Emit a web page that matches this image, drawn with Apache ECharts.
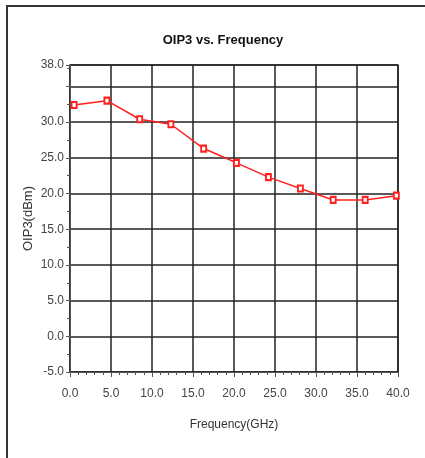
<!DOCTYPE html>
<html>
<head>
<meta charset="utf-8">
<script src="https://cdn.jsdelivr.net/npm/echarts@6/dist/echarts.min.js"></script>
<style>
  html, body { margin: 0; padding: 0; background: #fff; }
  #chart { width: 425px; height: 458px; }
</style>
</head>
<body>
<div id="chart"></div>
<script>
// frequency (GHz) and OIP3 (dBm)
const freq = [0.5, 4.5, 8.5, 12.3, 16.3, 20.3, 24.2, 28.1, 32.1, 36.0, 39.8]
const oip3 = [32.4, 33.0, 30.4, 29.7, 26.3, 24.3, 22.3, 20.7, 19.1, 19.1, 19.7]

const chart = echarts.init(document.getElementById('chart'))
const font = 'Liberation Sans, Arial, sans-serif'

const option = {
  backgroundColor: '#fff',
  animation: false,
  title: {
    text: 'OIP3 vs. Frequency',
    left: 218,
    top: 29,
    textAlign: 'center',
    textStyle: { fontSize: 13, fontWeight: 'bold', color: '#111', fontFamily: font }
  },
  graphic: [{
    // outer frame, only top and left edges visible
    type: 'rect',
    shape: { x: 7, y: 6, width: 440, height: 470 },
    style: { fill: 'none', stroke: '#333', lineWidth: 2 }
  }],
  grid: { left: 70, top: 65, right: 27, bottom: 86, show: true, borderColor: '#333', borderWidth: 1.5 },
  xAxis: {
    type: 'value',
    min: 0,
    max: 40,
    interval: 5,
    name: 'Frequency(GHz)',
    nameLocation: 'middle',
    nameGap: 47,
    nameTextStyle: { fontSize: 12, color: '#333', fontFamily: font },
    axisLine: { onZero: false, lineStyle: { color: '#555', width: 1 } },
    axisTick: { length: 5, lineStyle: { color: '#555' } },
    minorTick: { show: true, splitNumber: 5, length: 3, lineStyle: { color: '#555' } },
    axisLabel: {
      margin: 16,
      fontSize: 12,
      color: '#444',
      fontFamily: font,
      formatter: v => v.toFixed(1)
    },
    splitLine: { lineStyle: { color: '#222', width: 1.5 } }
  },
  yAxis: {
    type: 'value',
    min: -5,
    max: 38,
    interval: 5,
    name: 'OIP3(dBm)',
    nameLocation: 'middle',
    nameGap: 35,
    nameMoveOverlap: false,
    nameTextStyle: { fontSize: 13, color: '#333', fontFamily: font },
    axisLine: { show: true, onZero: false, lineStyle: { color: '#555', width: 1 } },
    axisTick: { show: true, length: 4, lineStyle: { color: '#555' } },
    minorTick: { show: true, splitNumber: 2, length: 3, lineStyle: { color: '#555' } },
    axisLabel: {
      margin: 6,
      fontSize: 12,
      color: '#444',
      fontFamily: font,
      showMaxLabel: true,
      formatter: v => (v === 35 ? '' : v.toFixed(1))
    },
    splitLine: { lineStyle: { color: '#222', width: 1.5 } }
  },
  series: [{
    type: 'line',
    data: freq.map((f, i) => [f, oip3[i]]),
    symbol: 'emptyRect',
    symbolSize: [5, 6],
    lineStyle: { color: '#ff2020', width: 1.5 },
    itemStyle: { color: '#ff2020', borderWidth: 1 }
  }]
}

chart.setOption(option)
</script>
</body>
</html>
